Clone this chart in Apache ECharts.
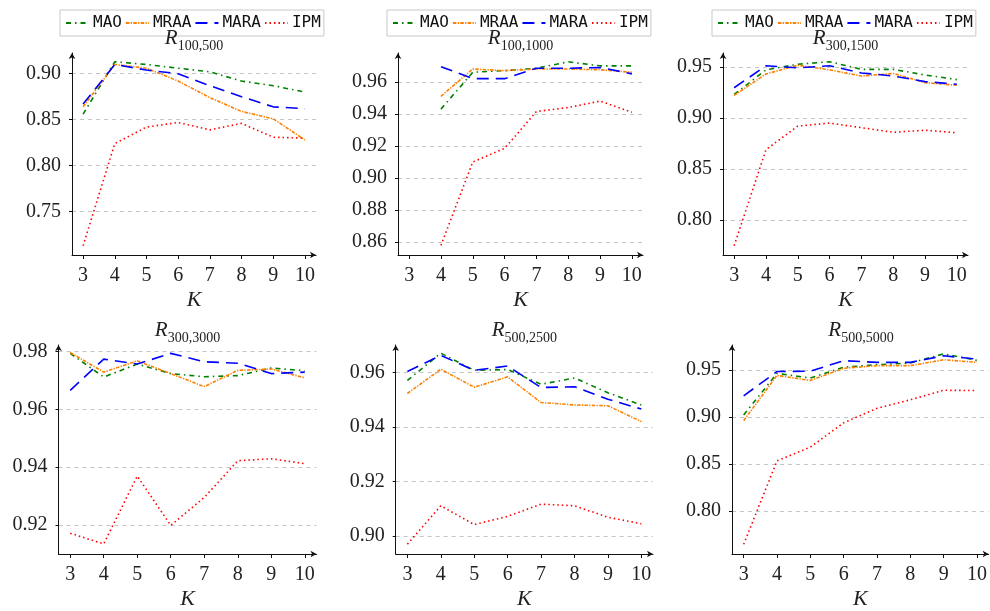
<!DOCTYPE html>
<html>
<head>
<meta charset="utf-8">
<script src="https://cdn.jsdelivr.net/npm/echarts@6/dist/echarts.min.js"></script>
<style>html,body{margin:0;padding:0;background:#fff}#c{width:990px;height:611px}</style>
</head>
<body>
<div id="c"></div>
<script>
// ---- data ----
const K = [3, 4, 5, 6, 7, 8, 9, 10];
const seriesNames = ['MAO', 'MRAA', 'MARA', 'IPM'];
const panelTitles = [['100', '500'], ['100', '1000'], ['300', '1500'], ['300', '3000'], ['500', '2500'], ['500', '5000']];

// R_{100,500}
const mao_100_500  = [0.856, 0.913, 0.910, 0.906, 0.902, 0.892, 0.887, 0.880];
const mraa_100_500 = [0.864, 0.910, 0.906, 0.892, 0.874, 0.859, 0.851, 0.828];
const mara_100_500 = [0.867, 0.910, 0.904, 0.900, 0.887, 0.875, 0.864, 0.862];
const ipm_100_500  = [0.713, 0.824, 0.842, 0.847, 0.839, 0.846, 0.831, 0.830];
// R_{100,1000}
const mao_100_1000  = [null, 0.943, 0.966, 0.967, 0.9685, 0.9725, 0.970, 0.970];
const mraa_100_1000 = [null, 0.951, 0.968, 0.967, 0.968, 0.968, 0.9675, 0.966];
const mara_100_1000 = [null, 0.9695, 0.962, 0.962, 0.9685, 0.9685, 0.969, 0.965];
const ipm_100_1000  = [null, 0.858, 0.910, 0.9185, 0.9415, 0.944, 0.948, 0.941];
// R_{300,1500}
const mao_300_1500  = [0.923, 0.947, 0.9525, 0.955, 0.9475, 0.9475, 0.942, 0.9375];
const mraa_300_1500 = [0.922, 0.943, 0.9515, 0.947, 0.941, 0.9435, 0.9345, 0.932];
const mara_300_1500 = [0.9295, 0.951, 0.949, 0.951, 0.944, 0.941, 0.9355, 0.933];
const ipm_300_1500  = [0.775, 0.869, 0.892, 0.895, 0.8905, 0.886, 0.888, 0.8855];
// R_{300,3000}
const mao_300_3000  = [0.9794, 0.9712, 0.9757, 0.9724, 0.9713, 0.9717, 0.9743, 0.9734];
const mraa_300_3000 = [0.9797, 0.9729, 0.9768, 0.9724, 0.9679, 0.9735, 0.9740, 0.9709];
const mara_300_3000 = [0.9666, 0.9774, 0.9757, 0.9794, 0.9765, 0.9760, 0.9724, 0.9729];
const ipm_300_3000  = [0.9171, 0.9134, 0.9369, 0.9198, 0.9295, 0.9422, 0.9429, 0.9412];
// R_{500,2500}
const mao_500_2500  = [0.9571, 0.9671, 0.9608, 0.9611, 0.9557, 0.9580, 0.9526, 0.9481];
const mraa_500_2500 = [0.9523, 0.9612, 0.9546, 0.9584, 0.9490, 0.9481, 0.9478, 0.9420];
const mara_500_2500 = [0.9604, 0.9663, 0.9608, 0.9624, 0.9545, 0.9548, 0.9502, 0.9466];
const ipm_500_2500  = [0.8970, 0.9111, 0.9042, 0.9072, 0.9117, 0.9111, 0.9069, 0.9045];
// R_{500,5000}
const mao_500_5000  = [0.9021, 0.9462, 0.9413, 0.9528, 0.9556, 0.9573, 0.9671, 0.9601];
const mraa_500_5000 = [0.8961, 0.9441, 0.9388, 0.9517, 0.9545, 0.9545, 0.9608, 0.9580];
const mara_500_5000 = [0.9224, 0.9483, 0.9486, 0.9598, 0.9580, 0.9580, 0.9650, 0.9615];
const ipm_500_5000  = [0.7643, 0.8531, 0.8678, 0.8937, 0.9091, 0.9182, 0.9283, 0.9280];

// tick labels
const xTicks = [3, 4, 5, 6, 7, 8, 9, 10];
const yTicks_100_500  = [0.75, 0.80, 0.85, 0.90];
const yTicks_100_1000 = [0.86, 0.88, 0.90, 0.92, 0.94, 0.96];
const yTicks_300_1500 = [0.80, 0.85, 0.90, 0.95];
const yTicks_300_3000 = [0.92, 0.94, 0.96, 0.98];
const yTicks_500_2500 = [0.90, 0.92, 0.94, 0.96];
const yTicks_500_5000 = [0.80, 0.85, 0.90, 0.95];

const panelData = [
  [mao_100_500, mraa_100_500, mara_100_500, ipm_100_500],
  [mao_100_1000, mraa_100_1000, mara_100_1000, ipm_100_1000],
  [mao_300_1500, mraa_300_1500, mara_300_1500, ipm_300_1500],
  [mao_300_3000, mraa_300_3000, mara_300_3000, ipm_300_3000],
  [mao_500_2500, mraa_500_2500, mara_500_2500, ipm_500_2500],
  [mao_500_5000, mraa_500_5000, mara_500_5000, ipm_500_5000]
];
const panelYTicks = [yTicks_100_500, yTicks_100_1000, yTicks_300_1500, yTicks_300_3000, yTicks_500_2500, yTicks_500_5000];

// ---- layout / style ----
const grids = [
  {left: 72,  top: 53,  width: 244, height: 202},
  {left: 398, top: 53,  width: 245, height: 202},
  {left: 723, top: 53,  width: 245, height: 202},
  {left: 58.5, top: 345, width: 258, height: 212.5},
  {left: 395.7, top: 345, width: 257.3, height: 212.3},
  {left: 732, top: 345, width: 258, height: 212.3}
];
const yRanges = [[0.703, 0.9225], [0.852, 0.978], [0.766, 0.9635], [0.9099, 0.9823], [0.8934, 0.9701], [0.754, 0.9765]];
const legendLefts = [60, 387, 712];
const styles = [
  {color: '#008000', type: [5, 4, 1.5, 4]},
  {color: '#ff8000', type: [3.5, 1.3, 1.3, 1.3]},
  {color: '#0000ff', type: [12, 7]},
  {color: '#ff0000', type: [1.5, 3]}
];
const serif = '"Liberation Serif", "DejaVu Serif", serif';
const mono = '"DejaVu Sans Mono", "Liberation Mono", monospace';

const option = {
  animation: false,
  backgroundColor: '#fff',
  grid: grids.map(g => Object.assign({containLabel: false}, g)),
  title: grids.map((g, i) => ({
    text: '{r|R}{s|' + panelTitles[i][0] + ',' + panelTitles[i][1] + '}',
    left: g.left + g.width / 2,
    top: g.top - 26,
    textAlign: 'center',
    padding: 0,
    textStyle: {
      fontWeight: 'normal',
      rich: {
        r: {fontFamily: serif, fontStyle: 'italic', fontWeight: 'normal', fontSize: 21, color: '#222', verticalAlign: 'bottom', lineHeight: 22},
        s: {fontFamily: serif, fontWeight: 'normal', fontSize: 14, color: '#222', verticalAlign: 'bottom', lineHeight: 16, padding: [0, 0, -4, 0]}
      }
    }
  })),
  legend: legendLefts.map(l => ({
    data: seriesNames,
    left: l,
    top: 10,
    orient: 'horizontal',
    itemWidth: 23,
    itemHeight: 14,
    itemGap: 3,
    padding: [5, 3, 5, 5],
    borderColor: '#c8c8c8',
    borderWidth: 1,
    borderRadius: 0,
    selectedMode: false,
    itemStyle: {color: 'rgba(0,0,0,0)', borderColor: 'rgba(0,0,0,0)', borderWidth: 0, opacity: 0},
    textStyle: {fontFamily: mono, fontSize: 16, color: '#111', padding: [0, 0, 0, -1]}
  })),
  xAxis: grids.map((g, i) => ({
    type: 'value',
    gridIndex: i,
    min: 2.65,
    max: 10.35,
    name: 'K',
    nameLocation: 'middle',
    nameGap: 34,
    nameTextStyle: {fontFamily: serif, fontStyle: 'italic', fontSize: 22, color: '#222'},
    axisLine: {show: true, onZero: false, symbol: ['none', 'arrow'], symbolSize: [5, 6], lineStyle: {color: '#111', width: 1}},
    axisTick: {show: true, inside: false, length: 4, customValues: xTicks, lineStyle: {color: '#111'}},
    axisLabel: {customValues: xTicks, margin: 11, fontFamily: serif, fontSize: 20, color: '#222'},
    splitLine: {show: false}
  })),
  yAxis: grids.map((g, i) => ({
    type: 'value',
    gridIndex: i,
    min: yRanges[i][0],
    max: yRanges[i][1],
    axisLine: {show: true, onZero: false, symbol: ['none', 'arrow'], symbolSize: [5, 6], lineStyle: {color: '#111', width: 1}},
    axisTick: {show: true, inside: false, length: 3, customValues: panelYTicks[i], lineStyle: {color: '#111'}},
    axisLabel: {customValues: panelYTicks[i], margin: 11, fontFamily: serif, fontSize: 20, color: '#222',
      formatter: v => v.toFixed(2)},
    splitLine: {show: true, lineStyle: {color: '#c4c4c4', type: [4, 4], width: 1}}
  })),
  series: []
};

panelData.forEach((arrs, p) => {
  arrs.forEach((arr, s) => {
    option.series.push({
      type: 'line',
      name: seriesNames[s],
      xAxisIndex: p,
      yAxisIndex: p,
      symbol: 'none',
      showSymbol: false,
      smooth: false,
      connectNulls: false,
      silent: true,
      lineStyle: {color: styles[s].color, type: styles[s].type, width: 1.6},
      itemStyle: {color: styles[s].color},
      data: K.map((k, j) => [k, arr[j]]).filter(d => d[1] !== null)
    });
  });
});

const chart = echarts.init(document.getElementById('c'), null, {renderer: 'canvas'});
chart.setOption(option);
</script>
</body>
</html>
